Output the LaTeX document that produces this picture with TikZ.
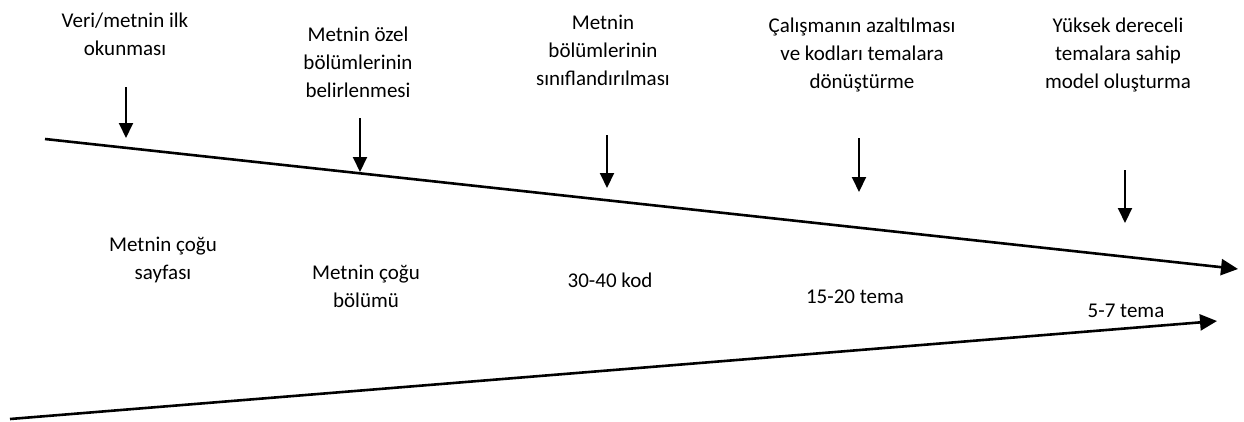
\documentclass[tikz,border=0pt]{standalone}
\usepackage{fontspec}
\setmainfont{Carlito}
\usetikzlibrary{arrows.meta}
\tikzset{lbl/.style={align=center, inner sep=0pt, font=\fontsize{21}{28}\selectfont},
         timeline/.style={line width=2.6pt, -{Triangle[length=17pt,width=16pt]}},
         marker/.style={line width=2pt, -{Triangle[length=15pt,width=14pt]}}}

\begin{document}
\begin{tikzpicture}[x=1pt,y=-1pt]
            \useasboundingbox (0,0) rectangle (1244,421);

            % steps
            \node[lbl] (s1) at (125, 34)  {Veri/metnin ilk\\okunması};
            \node[lbl] (s2) at (358, 62)  {Metnin özel\\bölümlerinin\\belirlenmesi};
            \node[lbl] (s3) at (603, 50)  {Metnin\\bölümlerinin\\sınıflandırılması};
            \node[lbl] (s4) at (862, 55)  {Çalışmanın azaltılması\\ve kodları temalara\\dönüştürme};
            \node[lbl] (s5) at (1118, 55) {Yüksek dereceli\\temalara sahip\\model oluşturma};

            % amounts
            \node[lbl] (a1) at (163, 260) {Metnin çoğu\\sayfası};
            \node[lbl] (a2) at (366, 286) {Metnin çoğu\\bölümü};
            \node[lbl] (a3) at (610, 280) {30-40 kod};
            \node[lbl] (a4) at (855, 297) {15-20 tema};
            \node[lbl] (a5) at (1126, 311) {5-7 tema};

            % timelines
            \coordinate (top start) at (45, 139);
            \coordinate (top end) at (1238, 269);
            \coordinate (low start) at (10, 419);
            \coordinate (low end) at (1217, 321);

            \draw[timeline] (top start) -- (top end);
            \draw[timeline] (low start) -- (low end);

            % markers
            \coordinate (m1) at (126, 87);   \coordinate (t1) at (126, 138);
            \coordinate (m2) at (360, 118);  \coordinate (t2) at (360, 172);
            \coordinate (m3) at (607, 135);  \coordinate (t3) at (607, 188);
            \coordinate (m4) at (859, 138);  \coordinate (t4) at (859, 192);
            \coordinate (m5) at (1125, 170); \coordinate (t5) at (1125, 223);

            \draw[marker] (m1) -- (t1);
            \draw[marker] (m2) -- (t2);
            \draw[marker] (m3) -- (t3);
            \draw[marker] (m4) -- (t4);
            \draw[marker] (m5) -- (t5);
\end{tikzpicture}
\end{document}
